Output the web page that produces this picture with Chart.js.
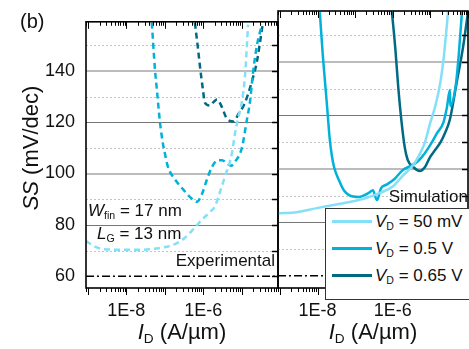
<!DOCTYPE html>
<html>
<head>
<meta charset="utf-8">
<script src="https://cdn.jsdelivr.net/npm/chart.js@4.4.0/dist/chart.umd.min.js"></script>
<style>
  html, body { margin: 0; padding: 0; background: #fff; }
  #wrap { position: relative; width: 469px; height: 349px; overflow: hidden;
          font-family: "Liberation Sans", Arial, sans-serif; color: #111; }
  canvas { position: absolute; top: 0; }
  #leftChart { left: 0; }
  #rightChart { left: 270px; }
  .t { position: absolute; white-space: nowrap; line-height: 1; }
  .s { font-size: 0.62em; position: relative; top: 0.32em; }
  i { font-style: italic; }
  #legendBox { position: absolute; left: 325px; top: 208px; width: 160px; height: 90px;
               border: 1.5px solid #333; background: #fff; }
  .sample { position: absolute; left: 332px; width: 40px; height: 3px; }
</style>
</head>
<body>
<div id="wrap">
  <canvas id="leftChart" width="282" height="349"></canvas>
  <canvas id="rightChart" width="199" height="349"></canvas>

  <div class="t" style="left:20px; top:11px; font-size:20px;">(b)</div>
  <div class="t" style="left:-69px; top:137px; width:200px; text-align:center; font-size:22px; transform:rotate(-90deg);"><i>SS</i> (mV/dec)</div>
  <div class="t" style="left:102px; top:321px; width:160px; text-align:center; font-size:22px;"><i>I</i><span class="s">D</span> (A/µm)</div>
  <div class="t" style="left:293px; top:321px; width:160px; text-align:center; font-size:22px;"><i>I</i><span class="s">D</span> (A/µm)</div>

  <div class="t" style="left:88px; top:202px; font-size:17px;"><i>W</i><span class="s">fin</span> = 17 nm</div>
  <div class="t" style="left:97px; top:225px; font-size:17px;"><i>L</i><span class="s">G</span> = 13 nm</div>
  <div class="t" style="right:194px; top:252px; font-size:17px;">Experimental</div>
  <div class="t" style="right:1px; top:188px; font-size:17px;">Simulation</div>

  <div id="legendBox"></div>
  <div class="sample" id="smp0" style="top:220px;"></div>
  <div class="sample" id="smp1" style="top:247px;"></div>
  <div class="sample" id="smp2" style="top:274px;"></div>
  <div class="t" style="left:375px; top:213px; font-size:17px;"><i>V</i><span class="s">D</span> = 50 mV</div>
  <div class="t" style="left:375px; top:240px; font-size:17px;"><i>V</i><span class="s">D</span> = 0.5 V</div>
  <div class="t" style="left:375px; top:267px; font-size:17px;"><i>V</i><span class="s">D</span> = 0.65 V</div>
</div>

<script>
// axis ranges
const xMinLeft = 8.9e-10, xMaxLeft = 8.9e-5;
const xMinRight = 8.9e-10, xMaxRight = 1.0e-4;
const ssMin = 55.4, ssMax = 159.1;
const xTickLabels = [1e-8, 1e-6];
const ssTickLabels = [60, 80, 100, 120, 140];
const ssGrid = [70, 80, 90, 100, 110, 120, 130, 140, 150];
const experimentalSS = 60;

const colors = ['#84e0f8', '#00b2da', '#006a84'];

// Experimental (left panel, dashed)  I in A/um, SS in mV/dec
const exp50mV_I = [8.9e-10, 1.52e-9, 2.77e-9, 6.8e-9, 2.26e-8, 7.5e-8, 1.85e-7, 3.36e-7, 6.1e-7, 9.3e-7,
                   1.5e-6, 2.03e-6, 2.74e-6, 3.7e-6, 5.6e-6, 6.7e-6, 8.05e-6, 1.02e-5, 1.23e-5, 1.48e-5];
const exp50mV_SS = [73.7, 71.5, 70.5, 70.3, 70.3, 71, 72.5, 75, 79, 82,
                    85, 87.2, 92.8, 98.8, 107.8, 115.3, 121.3, 128, 138, 158];
const exp05V_I = [4.6e-8, 5.6e-8, 6.3e-8, 7.5e-8, 9.0e-8, 1.01e-7, 1.21e-7, 1.85e-7, 2.98e-7, 4.8e-7,
                  6.9e-7, 9.3e-7, 1.26e-6, 1.7e-6, 2.43e-6, 3.1e-6, 4.17e-6, 5.3e-6, 6.7e-6, 1.02e-5,
                  1.38e-5, 1.66e-5, 1.98e-5, 2.52e-5, 3.4e-5];
const exp05V_SS = [158.7, 140, 132, 120, 111.5, 107.8, 102.6, 97.7, 93.9, 90.5,
                   89, 92, 97.7, 102.6, 105.2, 105.2, 104, 103, 104.5, 110,
                   121, 128, 139, 150, 158];
const exp065V_I = [6.1e-7, 7.3e-7, 8.3e-7, 9.9e-7, 1.11e-6, 1.5e-6, 1.91e-6, 2.29e-6, 3.1e-6, 3.93e-6,
                   5.0e-6, 6.3e-6, 8.05e-6, 1.23e-5, 1.87e-5, 2.52e-5, 3.6e-5];
const exp065V_SS = [158.7, 149, 141.5, 132.5, 127.6, 126.5, 128, 128.8, 125.8, 122,
                    120.5, 120.3, 122.8, 127.6, 136, 143.7, 158.7];

// Simulation (right panel, solid)
const sim50mV_I = [8.9e-10, 2.8e-9, 9.5e-9, 2.1e-8, 6.0e-8, 1.6e-7, 4.6e-7, 1.02e-6, 1.86e-6, 3.5e-6,
                   5.2e-6, 7.2e-6, 9.8e-6, 1.32e-5, 1.82e-5, 2.3e-5, 2.95e-5];
const sim50mV_SS = [83.3, 83.8, 85.3, 86.2, 87.4, 88.7, 91, 93.5, 97.5, 101.4,
                    105.5, 110, 117, 123, 132, 142.6, 158.7];
const sim05V_I = [1.15e-8, 1.38e-8, 1.78e-8, 2.1e-8, 2.4e-8, 2.75e-8, 3.7e-8, 5.0e-8, 6.9e-8, 1.26e-7,
                  2.3e-7, 2.95e-7, 3.8e-7, 4.9e-7, 6.6e-7, 1.07e-6, 1.86e-6, 2.9e-6, 4.4e-6, 6.0e-6,
                  8.1e-6, 1.1e-5, 1.5e-5, 2.2e-5, 2.75e-5, 3.3e-5, 3.4e-5, 4.8e-5, 5.7e-5, 6.9e-5];
const sim05V_SS = [158.7, 142.6, 124, 111.5, 105, 100.7, 95.8, 92, 90.2, 89.5,
                   91, 92, 88.3, 92.8, 94, 96, 99.6, 101, 102.6, 104.5,
                   107, 110, 113.4, 117.2, 123, 129.5, 123.5, 132, 143, 158.7];
const sim065V_I = [9.5e-7, 1.17e-6, 1.41e-6, 1.70e-6, 2.1e-6, 2.5e-6, 3.5e-6, 5.2e-6, 7.2e-6, 9.8e-6,
                   1.32e-5, 1.82e-5, 2.45e-5, 3.3e-5, 5.1e-5, 7.4e-5, 1.0e-4];
const sim065V_SS = [158.7, 145, 130, 118, 107.8, 103.3, 100.7, 99.2, 100.7, 104.4,
                    107, 109.7, 113.4, 118.5, 133, 145.6, 158.7];

Chart.defaults.font.family = '"Liberation Sans", Arial, sans-serif';
Chart.defaults.font.size = 18;
Chart.defaults.color = '#111';

['smp0', 'smp1', 'smp2'].forEach((id, i) => {
    document.getElementById(id).style.background = colors[i];
});

function pairs(xs, ys) {
    return xs.map((x, i) => ({ x: x, y: ys[i] }));
}

function curve(xs, ys, color, dashed) {
    return {
        data: pairs(xs, ys),
        borderColor: color,
        borderWidth: 2.5,
        borderDash: dashed ? [6, 4] : [],
        pointRadius: 0,
        cubicInterpolationMode: 'monotone',
        fill: false,
    };
}

function limitLine(xMin, xMax) {
    return {
        data: [{ x: xMin, y: experimentalSS }, { x: xMax, y: experimentalSS }],
        borderColor: '#000',
        borderWidth: 1.5,
        borderDash: [8, 3, 2, 3],
        pointRadius: 0,
    };
}

// gridlines, frame and log ticks
const panelDecor = {
    id: 'panelDecor',
    beforeDatasetsDraw(chart) {
        const { ctx, chartArea: a, scales: { y } } = chart;
        ctx.save();
        ssGrid.forEach(v => {
            let py = Math.round(y.getPixelForValue(v));
            if (v % 20 === 0) {
                ctx.setLineDash([]);
                if (v % 40 === 20) { ctx.strokeStyle = '#bcbcbc'; ctx.lineWidth = 2; }
                else { ctx.strokeStyle = '#777'; ctx.lineWidth = 1; py += 0.5; }
            } else {
                ctx.setLineDash([2, 2]);
                ctx.strokeStyle = '#c4c4c4';
                ctx.lineWidth = 1;
                py += 0.5;
            }
            ctx.beginPath();
            ctx.moveTo(a.left, py);
            ctx.lineTo(a.right, py);
            ctx.stroke();
        });
        ctx.restore();
    },
    afterDatasetsDraw(chart) {
        const { ctx, chartArea: a, scales: { x, y } } = chart;
        ctx.save();
        ctx.strokeStyle = '#000';
        ctx.setLineDash([]);
        ctx.lineWidth = 1;
        for (let e = -10; e <= -4; e++) {
            for (let m = 1; m <= 9; m++) {
                const v = m * Math.pow(10, e);
                if (v < x.min || v > x.max) continue;
                const px = Math.round(x.getPixelForValue(v)) + 0.5;
                const len = m === 1 ? 7 : 4;
                ctx.beginPath();
                ctx.moveTo(px, a.top);
                ctx.lineTo(px, a.top + len);
                ctx.moveTo(px, a.bottom);
                ctx.lineTo(px, a.bottom + len);
                ctx.stroke();
            }
        }
        ctx.lineWidth = 1.5;
        [60].concat(ssGrid).forEach(v => {
            const py = Math.round(y.getPixelForValue(v)) + 0.5;
            ctx.beginPath();
            ctx.moveTo(a.right, py);
            ctx.lineTo(a.right - 6, py);
            ctx.stroke();
        });
        ctx.lineWidth = 1.6;
        ctx.strokeRect(a.left, a.top, a.right - a.left, a.bottom - a.top);
        ctx.restore();
    }
};

function panelOptions(xMin, xMax, showY, padLeft, padRight) {
    return {
        responsive: false,
        animation: false,
        layout: { padding: { left: padLeft, right: padRight, top: 11, bottom: 0 } },
        plugins: { legend: { display: false }, tooltip: { enabled: false } },
        scales: {
            x: {
                type: 'logarithmic',
                min: xMin,
                max: xMax,
                grid: { display: false, drawTicks: false },
                border: { display: false },
                afterBuildTicks: s => { s.ticks = xTickLabels.map(v => ({ value: v })); },
                afterFit: s => { s.height = 61; },
                ticks: {
                    autoSkip: false,
                    maxRotation: 0,
                    padding: 12,
                    callback: v => '1E' + Math.round(Math.log10(v)),
                },
            },
            y: {
                display: showY,
                min: ssMin,
                max: ssMax,
                grid: { display: false, drawTicks: false },
                border: { display: false },
                afterFit: s => { s.width = showY ? 86 : 0; },
                ticks: {
                    stepSize: 10,
                    includeBounds: false,
                    autoSkip: false,
                    padding: 11,
                    callback: v => ssTickLabels.includes(v) ? String(v) : '',
                },
            },
        },
    };
}

new Chart(document.getElementById('leftChart'), {
    type: 'line',
    data: {
        datasets: [
            limitLine(xMinLeft, xMaxLeft),
            curve(exp50mV_I, exp50mV_SS, colors[0], true),
            curve(exp05V_I, exp05V_SS, colors[1], true),
            curve(exp065V_I, exp065V_SS, colors[2], true),
        ],
    },
    options: panelOptions(xMinLeft, xMaxLeft, true, 0, 4),
    plugins: [panelDecor],
});

new Chart(document.getElementById('rightChart'), {
    type: 'line',
    data: {
        datasets: [
            limitLine(xMinRight, xMaxRight),
            curve(sim50mV_I, sim50mV_SS, colors[0], false),
            curve(sim05V_I, sim05V_SS, colors[1], false),
            curve(sim065V_I, sim065V_SS, colors[2], false),
        ],
    },
    options: panelOptions(xMinRight, xMaxRight, false, 8, 1),
    plugins: [panelDecor],
});
</script>
</body>
</html>
